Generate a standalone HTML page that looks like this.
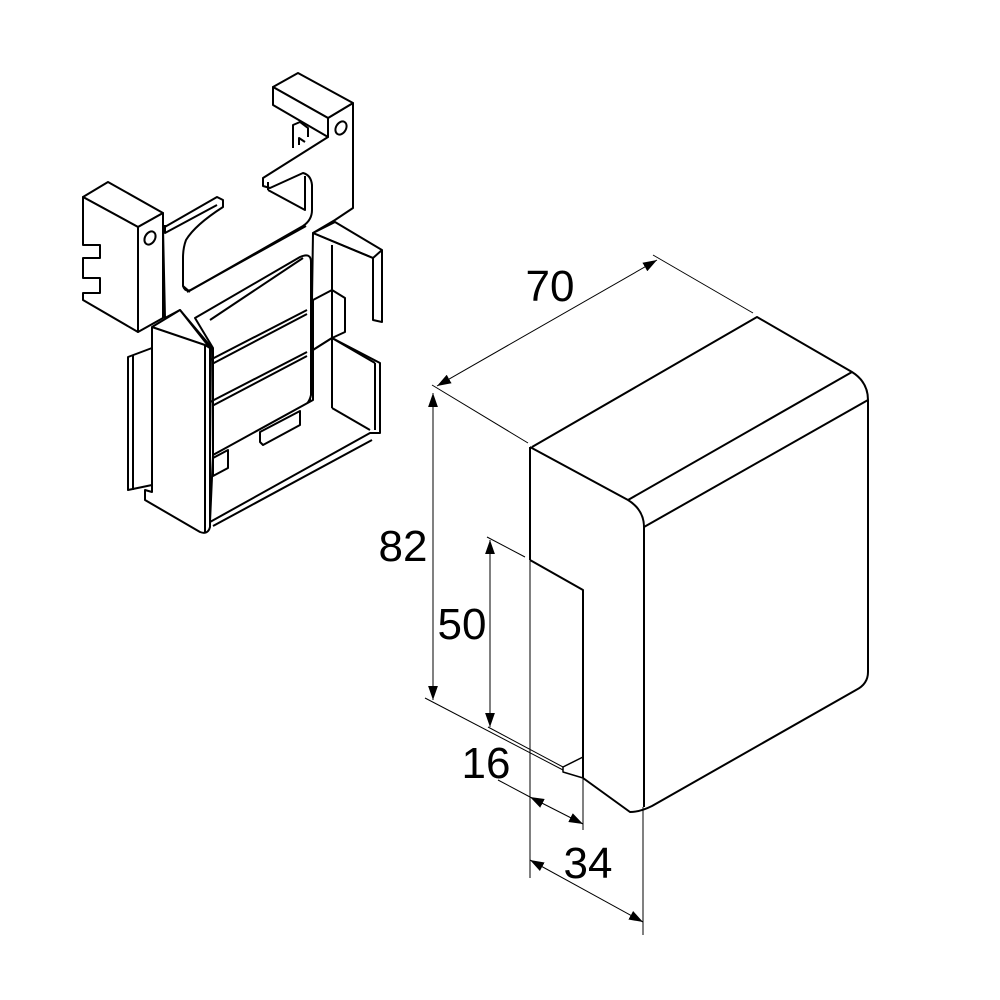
<!DOCTYPE html>
<html><head><meta charset="utf-8"><style>
html,body{margin:0;padding:0;background:#fff;}
svg{display:block}
text{font-family:"Liberation Sans",Arial,sans-serif;font-size:44px;fill:#000}
</style></head><body>
<svg width="1000" height="1000" viewBox="0 0 1000 1000" xmlns="http://www.w3.org/2000/svg">
<defs>
<marker id="a" viewBox="0 0 10 10" refX="10" refY="5" markerWidth="14" markerHeight="14" markerUnits="userSpaceOnUse" orient="auto-start-reverse"><path d="M0,1.5 L10,5 L0,8.5 z" fill="#000"/></marker>
</defs>

<!-- ===== LEFT PART ===== -->
<g fill="#fff" stroke="#000" stroke-width="2" stroke-linejoin="round">
 <path d="M163,228 L217,197 L223,200 L223,207 Q195,225 186,240 Q183,248 183,258 L183,286 Q185,292 191,290 L303,226 Q312,220 312,210 L312,185 Q311,175 303,173 L270,188 L263,186 L263,178 L328,137 L328,118 L353,103 L353,208 L335,220 L313,233 L312,300 L310,400 L213,455 L212,348 L180,310 L165,318 Z"/>
 <polygon points="273,87 298,73 353,103 328,118"/>
 <polygon points="273,87 273,105 328,137 328,118"/>
 <polygon points="83,197 108,182 163,213 138,227"/>
 <polygon points="83,197 83,245 100,245 100,258 83,258 83,278 100,278 100,293 83,293 83,300 138,332 138,227"/>
 <polygon points="138,227 163,213 163,318 138,332"/>
</g>
<g fill="none" stroke="#000" stroke-width="2" stroke-linejoin="round">
 <ellipse cx="150" cy="238" rx="5" ry="7" transform="rotate(30 150 238)"/>
 <ellipse cx="341" cy="128" rx="5" ry="7" transform="rotate(30 341 128)"/>
 <polyline points="293,148 293,125 300,122 308,128 308,137"/>
 <polyline points="299,145 299,138 305,142"/>
 <line x1="268" y1="182" x2="268" y2="190"/>
 <polyline points="268,190 305,210 305,176"/>
 <line x1="187" y1="292" x2="306" y2="226"/>
 <line x1="183" y1="286" x2="190" y2="292"/>
 <polyline points="165,225 165,233 217,205"/>
</g>
<g fill="#fff" stroke="#000" stroke-width="2" stroke-linejoin="round">
 <polygon points="313,233 335,222 382,250 382,322 373,320 373,258"/>
 <line x1="313" y1="233" x2="373" y2="258"/>
 <line x1="373" y1="258" x2="382" y2="250"/>
 <line x1="332" y1="245" x2="332" y2="300"/>
 <path d="M195,318 L300,257 Q311,252 311,262 L311,395 Q309,405 299,410 L213,455 L213,348 Z"/>
 <line x1="210" y1="320" x2="303" y2="258"/>
 <line x1="210" y1="360" x2="307" y2="310"/>
 <line x1="212" y1="364" x2="307" y2="314"/>
 <line x1="210" y1="402" x2="307" y2="352"/>
 <line x1="212" y1="406" x2="307" y2="356"/>
 <polygon points="313,300 332,290 345,298 345,332 332,338 313,350"/>
 <line x1="332" y1="290" x2="332" y2="338"/>
 <polygon points="213,455 313,400 313,350 332,338 380,363 380,433 370,433 210,522"/>
 <line x1="332" y1="338" x2="332" y2="408"/>
 <line x1="332" y1="408" x2="370" y2="430"/>
 <line x1="332" y1="338" x2="375" y2="363"/>
 <line x1="375" y1="363" x2="375" y2="430"/>
 <polygon points="260,432 300,411 300,425 263,445 260,442"/>
 <polygon points="213,458 228,450 228,468 213,476"/>
 <line x1="213" y1="526" x2="372" y2="440"/>
 <polygon points="128,357 152,348 152,485 128,490"/>
 <line x1="133" y1="355" x2="133" y2="490"/>
 <path d="M152,327 L180,310 L210,348 L210,527 Q208,535 200,532 L145,500 L145,490 L152,492 Z"/>
 <polyline points="152,327 205,345 210,348"/>
 <line x1="205" y1="345" x2="205" y2="532"/>
</g>

<!-- ===== RIGHT BOX ===== -->
<g fill="none" stroke="#000" stroke-width="2" stroke-linejoin="round">
 <path d="M532,447 L757,317 L852,372 Q868,382 868,400 L868,672 Q868,684 856,690 L652,806 Q640,812 630,812 L583,778"/>
 <path d="M530,447 L628,500 Q644,510 644,527 L644,807"/>
 <line x1="628" y1="500" x2="852" y2="372"/>
 <line x1="644" y1="527" x2="868" y2="400"/>
 <line x1="530" y1="447" x2="530" y2="560"/>
 <polyline points="530,560 583,590 583,778"/>
 <polygon points="563,767 583,757 583,778 563,772" stroke-width="1.5"/>
</g>

<!-- ===== DIMENSIONS ===== -->
<g stroke="#000" stroke-width="1" fill="none">
 <line x1="432" y1="385" x2="528" y2="443"/>
 <line x1="653" y1="255" x2="753" y2="313"/>
 <line x1="437" y1="386" x2="657" y2="260" marker-start="url(#a)" marker-end="url(#a)"/>
 <line x1="433" y1="393" x2="433" y2="700" marker-start="url(#a)" marker-end="url(#a)"/>
 <line x1="425" y1="698" x2="563" y2="770"/>
 <line x1="487" y1="537" x2="525" y2="557"/>
 <line x1="490" y1="540" x2="490" y2="727" marker-start="url(#a)" marker-end="url(#a)"/>
 <line x1="488" y1="727" x2="563" y2="767"/>
 <line x1="530" y1="560" x2="530" y2="878"/>
 <line x1="583" y1="778" x2="583" y2="830"/>
 <line x1="643" y1="807" x2="643" y2="935"/>
 <line x1="498" y1="780" x2="530" y2="797"/>
 <line x1="530" y1="797" x2="583" y2="824" marker-start="url(#a)" marker-end="url(#a)"/>
 <line x1="530" y1="860" x2="643" y2="922" marker-start="url(#a)" marker-end="url(#a)"/>
</g>
<text x="550" y="301" text-anchor="middle">70</text>
<text x="403" y="561" text-anchor="middle">82</text>
<text x="462" y="639" text-anchor="middle">50</text>
<text x="486" y="778" text-anchor="middle">16</text>
<text x="588" y="878" text-anchor="middle">34</text>
</svg>
</body></html>
